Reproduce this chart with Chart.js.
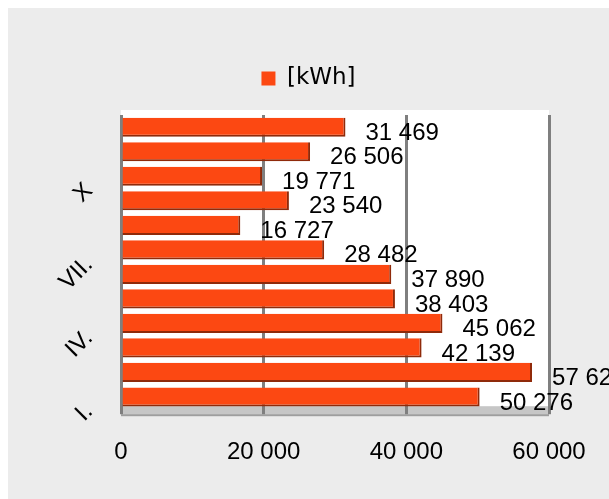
<!DOCTYPE html>
<html>
<head>
<meta charset="utf-8">
<script src="https://cdn.jsdelivr.net/npm/chart.js@4/dist/chart.umd.min.js"></script>
<style>
  body { margin: 8px 0 0 8px; background: #ffffff; overflow: hidden; }
  #wrap { width: 601px; height: 491px; background: #ececec; }
  canvas { display: block; }
</style>
</head>
<body>
<div id="wrap"><canvas id="chart" width="601" height="491"></canvas></div>
<script>
// Monthly energy consumption, January (I.) to December (XII.)
const months = ['I.', 'II.', 'III.', 'IV.', 'V.', 'VI.', 'VII.', 'VIII.', 'IX.', 'X', 'XI.', 'XII.'];
const kwh = [50276, 57621, 42139, 45062, 38403, 37890, 28482, 16727, 23540, 19771, 26506, 31469];
const seriesName = '[kWh]';
const axisMax = 60000;
const axisStep = 20000;

const BAR = '#fc4812';
const FONT = '"Liberation Sans", Arial, sans-serif';

// "31469" -> "31 469"
function fmt(v) {
  return String(Math.round(v)).replace(/\B(?=(\d{3})+(?!\d))/g, ' ');
}

// White back wall and grey floor behind the bars
const wallAndFloor = {
  id: 'wallAndFloor',
  beforeDraw(chart) {
    const { ctx, chartArea: a } = chart;
    ctx.save();
    ctx.fillStyle = '#ffffff';
    ctx.fillRect(a.left, a.top - 5, a.right - a.left, a.bottom - a.top + 5);
    ctx.fillStyle = '#c6c6c6';
    ctx.fillRect(a.left, a.bottom - 3, a.right - a.left, 8);
    ctx.fillStyle = '#9e9e9e';
    ctx.fillRect(a.left, a.bottom + 5, a.right - a.left, 2);
    ctx.restore();
  }
};

// Value written to the right of each bar
const valueLabels = {
  id: 'valueLabels',
  afterDatasetsDraw(chart) {
    const { ctx } = chart;
    const meta = chart.getDatasetMeta(0);
    const data = chart.data.datasets[0].data;
    ctx.save();
    ctx.font = '24px ' + FONT;
    ctx.fillStyle = '#000000';
    ctx.textAlign = 'left';
    ctx.textBaseline = 'middle';
    meta.data.forEach((bar, i) => {
      ctx.fillText(fmt(data[i]), bar.x + 20, bar.y + 6);
    });
    ctx.restore();
  }
};

new Chart(document.getElementById('chart'), {
  type: 'bar',
  data: {
    labels: months,
    datasets: [{
      label: seriesName,
      data: kwh,
      backgroundColor: BAR,
      borderColor: '#8f2a0a',
      borderWidth: { top: 0, left: 0, right: 2, bottom: 2 },
      borderSkipped: false,
      barPercentage: 0.78,
      categoryPercentage: 1.0
    }]
  },
  options: {
    indexAxis: 'y',
    responsive: false,
    animation: false,
    layout: { padding: { top: 49, right: 0, bottom: 8, left: 0 } },
    plugins: {
      tooltip: { enabled: false },
      legend: {
        position: 'top',
        labels: {
          font: { family: '"DejaVu Sans", sans-serif', size: 23 },
          color: '#000000',
          boxWidth: 14,
          boxHeight: 14,
          padding: 10,
          generateLabels: (chart) => chart.data.datasets.map((ds, i) => ({
            text: ds.label,
            fillStyle: BAR,
            strokeStyle: BAR,
            lineWidth: 0,
            hidden: false,
            datasetIndex: i
          }))
        }
      }
    },
    scales: {
      x: {
        min: 0,
        max: axisMax,
        ticks: {
          stepSize: axisStep,
          maxRotation: 0,
          callback: (v) => fmt(v),
          font: { family: FONT, size: 24 },
          color: '#000000',
          padding: 24
        },
        grid: { color: '#7f7f7f', lineWidth: 3, tickLength: 5, drawTicks: true },
        border: { display: false },
        afterFit: (s) => { s.paddingRight = 60; }
      },
      gap: {
        type: 'linear',
        axis: 'x',
        position: 'top',
        display: true,
        ticks: { display: false },
        grid: { display: false, drawTicks: false },
        border: { display: false },
        afterFit: (s) => { s.height = 15; }
      },
      y: {
        reverse: true,
        grid: { display: false, drawTicks: false },
        border: { display: false },
        ticks: {
          autoSkip: false,
          minRotation: 45,
          maxRotation: 45,
          padding: 32,
          labelOffset: 11,
          font: { family: FONT, size: 24 },
          color: '#000000',
          callback: (v) => (v % 3 === 0 ? months[v] : '')
        },
        afterFit: (s) => {
          s.width = 113;
          s.paddingTop = 0;
          s.paddingBottom = 0;
        }
      }
    }
  },
  plugins: [wallAndFloor, valueLabels]
});
</script>
</body>
</html>
